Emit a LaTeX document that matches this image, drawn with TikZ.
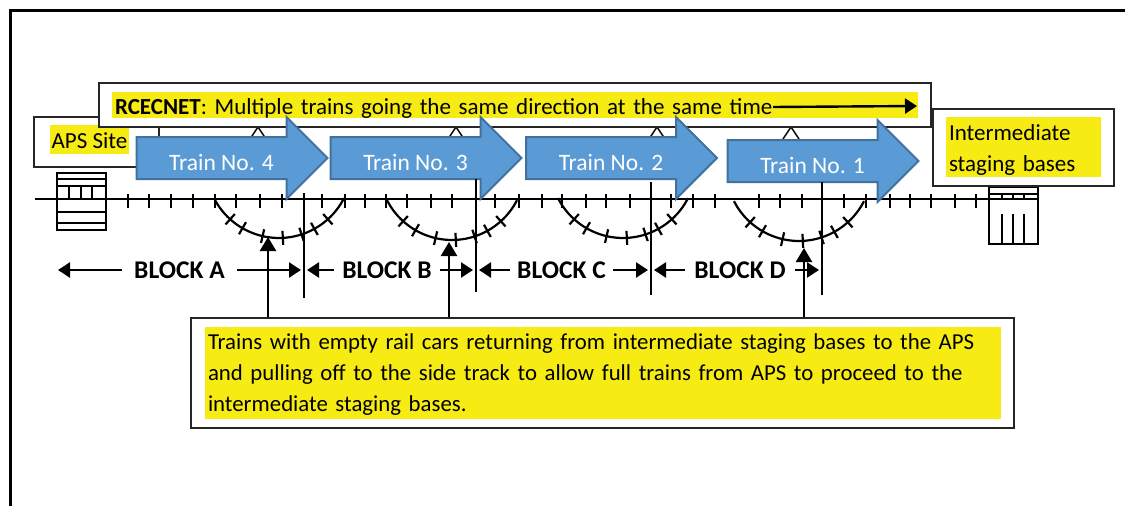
\documentclass[tikz,border=0pt]{standalone}
\usepackage{fontspec}
\setmainfont{Carlito}
\usetikzlibrary{arrows.meta,shapes.arrows}
\definecolor{noteyellow}{HTML}{F7EB14}
\definecolor{trainblue}{HTML}{5B9BD5}
\definecolor{trainedge}{HTML}{41719C}
\tikzset{
    rail/.style={line width=2.2pt,black},
    thinrail/.style={line width=1.5pt,black},
    box/.style={draw=black!85,line width=1.2pt,fill=white,inner sep=0pt},
    highlight/.style={fill=noteyellow,inner ysep=0pt,inner xsep=3pt,align=left,font=\fontsize{23}{31}\selectfont},
    train/.style={single arrow,draw=trainedge,line width=2pt,fill=trainblue,text=white,
        minimum height=191pt,text height=16pt,text depth=4pt,inner ysep=10pt,inner xsep=0pt,
        single arrow head extend=20pt,single arrow tip angle=90,font=\fontsize{23.5}{25}\selectfont},
    blocklabel/.style={font=\bfseries\fontsize{25.5}{28}\selectfont,inner ysep=2pt},
    blockarrow/.style={line width=2.4pt,-{Triangle[length=12pt,width=15pt]},shorten >=3pt},
    uparrow/.style={line width=2.4pt,-{Triangle[length=14pt,width=16pt]}},
    limitline/.style={line width=2.4pt}
}
\newcommand{\trainlabel}[1]{\raisebox{-6pt}[0pt][0pt]{#1}}
\newcommand{\sidetrack}[2]{
    \draw[rail,domain=-63:63,smooth,samples=25] plot ({#1+73*sin(\x)},{#2+73*cos(\x)});
    \foreach \a in {-42,-30,-13,3,18,29,42}
        \draw[rail] ({#1+66*sin(\a)},{#2+66*cos(\a)}) -- ({#1+80*sin(\a)},{#2+80*cos(\a)});
}
\begin{document}
\begin{tikzpicture}[x=1pt,y=-1pt]
    \useasboundingbox (0,0) rectangle (1125,506);
    % frame
    \draw[line width=3pt] (10,506) -- (10,10) -- (1125,10);

    % roofs behind the trains
    \foreach \x in {258,456,657,791}
        \draw[thinrail] (\x-8,139) -- (\x,127) -- (\x+8,139);

    % APS site
    \node[box,minimum width=125pt,minimum height=50pt] (apsbox) at (96.5,142) {};
    \node[highlight,minimum width=79pt,inner xsep=1pt,text height=23pt,text depth=6pt] (apstext) at (89.5,139.5) {APS Site};

    % main track
    \draw[rail] (35,199) -- (1038,199);
    \foreach \x in {128,149,171,193,215,236,260,282,322,345,365,386,407,431,452,495,519,542,562,586,606,630,671,693,715,759,780,802,844,866,890,910,931,955,976}
        \draw[rail] (\x,194) -- (\x,208);

    % side tracks
    \sidetrack{279}{165}
    \sidetrack{452}{167}
    \sidetrack{623}{165}
    \sidetrack{799}{168}

    % stations
    \draw[thinrail] (57,173) rectangle (106,230);
    \foreach \y in {179,186,212,223}
        \draw[thinrail] (57,\y) -- (106,\y);
    \foreach \x in {69,81,92}
        \draw[thinrail] (\x,186) -- (\x,199);
    \draw[thinrail] (989,187) rectangle (1038,244);
    \draw[thinrail] (989,194) -- (1038,194);
    \foreach \x in {1002,1013,1024} {
        \draw[thinrail] (\x,194) -- (\x,199);
        \draw[thinrail] (\x,214) -- (\x,244);
    }

    % text boxes at the top
    \node[box,minimum width=832pt,minimum height=44pt] (rcecbox) at (515,105) {};
    \node[highlight,text width=800pt,text height=22pt,text depth=4pt] (rcectext) at (515,105)
        {\textbf{RCECNET}: Multiple trains going the same direction at the same time};
    \coordinate (rcecend) at (917,106);
    \draw[line width=2.4pt,-{Triangle[length=12pt,width=15pt]}] (773,107) -- (rcecend);

    \node[box,minimum width=181pt,minimum height=77pt] (basebox) at (1023.5,147.5) {};
    \node[highlight,text width=149pt] (basetext) at (1023.5,147)
        {\rule{0pt}{23pt}Intermediate\\staging bases\rule[-6pt]{0pt}{6pt}};

    % trains
    \node[train] (train4) at (221.5,158) {\trainlabel{Train No. 4}};
    \node[train] (train3) at (415.5,158) {\trainlabel{Train No. 3}};
    \node[train] (train2) at (611,158) {\trainlabel{Train No. 2}};
    \node[train] (train1) at (812.5,161) {\trainlabel{Train No. 1}};

    % block limits
    \foreach \name/\x/\top/\bot in {limitab/304/193/298,limitbc/476/179/292,limitcd/651/182/295,limitde/822/182/295} {
        \coordinate (\name) at (\x,270);
        \draw[limitline] (\x,\top) -- (\x,\bot);
    }

    % blocks
    \coordinate (blockend) at (55,270);
    \node[blocklabel,inner xsep=12.5pt] (blocka) at (179.5,270) {BLOCK A};
    \node[blocklabel,inner xsep=8.5pt] (blockb) at (387,270) {BLOCK B};
    \node[blocklabel,inner xsep=7.5pt] (blockc) at (561.5,270) {BLOCK C};
    \node[blocklabel,inner xsep=9.5pt] (blockd) at (740,270) {BLOCK D};
    \draw[blockarrow] (blocka.west) -- (blockend);
    \draw[blockarrow] (blocka.east) -- (limitab);
    \draw[blockarrow] (blockb.west) -- (limitab);
    \draw[blockarrow] (blockb.east) -- (limitbc);
    \draw[blockarrow] (blockc.west) -- (limitbc);
    \draw[blockarrow] (blockc.east) -- (limitcd);
    \draw[blockarrow] (blockd.west) -- (limitcd);
    \draw[blockarrow] (blockd.east) -- (limitde);

    % returning trains
    \node[box,minimum width=823pt,minimum height=110pt] (returnbox) at (602.5,373) {};
    \node[highlight,text width=790pt,font=\fontsize{22.8}{31}\selectfont] (returntext) at (603,373)
        {\rule{0pt}{22pt}Trains with empty rail cars returning from intermediate staging bases to the APS\\
        and pulling off to the side track to allow full trains from APS to proceed to the\\
        intermediate staging bases.\rule[-8pt]{0pt}{8pt}};
    \coordinate (sidinga) at (268,237);
    \coordinate (sidingb) at (449,242);
    \coordinate (sidingd) at (804,248);
    \draw[uparrow] (returnbox.north -| sidinga) -- (sidinga);
    \draw[uparrow] (returnbox.north -| sidingb) -- (sidingb);
    \draw[uparrow] (returnbox.north -| sidingd) -- (sidingd);
\end{tikzpicture}
\end{document}
